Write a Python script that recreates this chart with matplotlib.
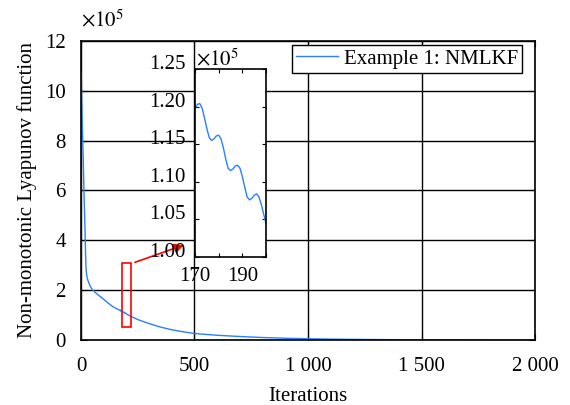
import matplotlib
matplotlib.use('Agg')
import matplotlib.pyplot as plt
from matplotlib.patches import Rectangle
from matplotlib.ticker import FuncFormatter

# values, y in units of 1e5
iters = [0, 1, 5, 10, 13, 16, 18, 20, 22, 25, 30, 40, 50, 70, 95, 120, 140, 160,
         170, 171, 172, 173, 174, 175, 176, 177, 178, 179, 180, 181, 182, 183, 184,
         185, 186, 187, 188, 189, 190, 191, 192, 193, 194, 195, 196, 197, 198, 199, 200,
         213, 250, 300, 345, 400, 450, 500, 600, 700, 800, 900, 1000, 1100, 1200,
         1400, 1600, 1800, 2000]
lyap = [0.0, 10.75, 9.0, 7.2, 6.0, 5.0, 4.3, 3.5, 2.9, 2.6, 2.4, 2.17, 2.02, 1.85, 1.67, 1.48, 1.34, 1.24,
        1.197, 1.203, 1.204, 1.198, 1.185, 1.171, 1.159, 1.155, 1.157, 1.161, 1.162, 1.157, 1.145, 1.130, 1.118,
        1.115, 1.117, 1.121, 1.122, 1.118, 1.107, 1.093, 1.080, 1.076, 1.078, 1.082, 1.084, 1.080, 1.070, 1.057, 1.045,
        0.98, 0.82, 0.66, 0.53, 0.41, 0.33, 0.26, 0.19, 0.14, 0.10, 0.07, 0.05, 0.035, 0.025,
        0.012, 0.006, 0.003, 0.002]

xticks = [0, 500, 1000, 1500, 2000]
xticklabels = ['0', '500', '1 000', '1 500', '2 000']
yticks = [0, 2, 4, 6, 8, 10, 12]
inset_xticks = [170, 180, 190, 200]
inset_xlabels = ['170', '', '190', '']
inset_yticks = [1.00, 1.05, 1.10, 1.15, 1.20, 1.25]

plt.rcParams['font.family'] = 'Liberation Serif'
plt.rcParams['mathtext.fontset'] = 'stix'
plt.rcParams['font.size'] = 15

blue = '#2a7fff'

fig = plt.figure(figsize=(5.7, 4.05), dpi=100)
ax = fig.add_axes([0.1421, 0.1605, 0.7965, 0.7383])
ax.plot(iters, lyap, color=blue, lw=1.0, label='Example 1: NMLKF')
ax.set_xlim(0, 2000)
ax.set_ylim(0, 12)
ax.set_xticks(xticks)
ax.set_xticklabels(xticklabels)
ax.set_yticks(yticks)
ax.grid(True, color='black', lw=1.0)
ax.tick_params(direction='in', top=True, right=True, length=4)
ax.tick_params(axis='x', pad=12)
ax.tick_params(axis='y', pad=11)
for s in ax.spines.values():
    s.set_linewidth(1.2)
ax.set_xlabel('Iterations', labelpad=8)
ax.set_ylabel('Non-monotonic Lyapunov function', labelpad=6)
ax.text(0.0, 1.05, r'$\times10^{5}$', transform=ax.transAxes, fontsize=15)
leg = ax.legend(loc='upper right', fancybox=False, framealpha=1, edgecolor='black',
                handlelength=2.0, borderpad=0.2, handletextpad=0.3,
                bbox_to_anchor=(0.995, 1.022))
leg.get_frame().set_linewidth(1.0)

# zoom box and arrow
ax.add_patch(Rectangle((180, 0.53), 42, 2.55, fill=False, edgecolor='red', lw=1.2, zorder=5))
ax.annotate('', xy=(465, 3.85), xytext=(226, 3.08),
            arrowprops=dict(arrowstyle='-|>', color='red', lw=1.2, mutation_scale=14), zorder=6)

# inset
ins = fig.add_axes([0.3421, 0.3654, 0.1246, 0.4642])
ins.plot(iters, lyap, color=blue, lw=1.0)
ins.set_xlim(170, 200)
ins.set_ylim(1.0, 1.25)
ins.set_xticks(inset_xticks)
ins.set_xticklabels(inset_xlabels)
ins.set_yticks(inset_yticks)
ins.yaxis.set_major_formatter(FuncFormatter(lambda v, p: '%.2f' % v))
ins.tick_params(direction='in', top=True, right=True, length=3)
ins.tick_params(axis='x', pad=7)
ins.tick_params(axis='y', pad=7)
for lbl in ins.get_yticklabels():
    lbl.set_verticalalignment('baseline')
for s in ins.spines.values():
    s.set_linewidth(1.2)
ins.text(0.02, 1.02, r'$\times10^{5}$', transform=ins.transAxes, fontsize=15)

fig.savefig('out.png', dpi=100)
